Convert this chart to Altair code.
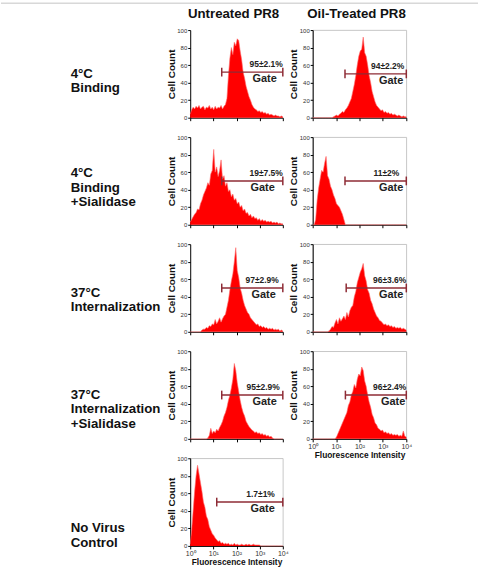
import altair as alt
import pandas as pd

FONT = "Liberation Sans"
RED = "#ff0000"
GATE_COLOR = "#8e2b35"

# ---------------- data ----------------
N_BINS = 64
bin_exponents = [4 * i / (N_BINS - 1) for i in range(N_BINS)]  # channel grid (log10 units)

column_titles = ["Untreated PR8", "Oil-Treated PR8"]
row_labels = [
    "4°C\nBinding",
    "4°C\nBinding\n+Sialidase",
    "37°C\nInternalization",
    "37°C\nInternalization\n+Sialidase",
    "No Virus\nControl",
]
x_tick_values = [1, 10, 100, 1000, 10000]
x_tick_labels = ["10⁰", "10¹", "10²", "10³", "10⁴"]
y_tick_values = [0, 20, 40, 60, 80, 100]

untreated_binding = [4, 9, 12, 10, 13, 11, 14, 10, 12, 13, 9, 12, 11, 14, 10, 12, 9, 13, 10, 12,
                     11, 14, 10, 13, 15, 22, 48, 68, 80, 72, 86, 82, 90, 88, 76, 66, 52, 45, 36, 30,
                     24, 20, 15, 12, 10, 9, 7, 8, 6, 7, 5, 6, 4, 5, 3, 4, 3, 2, 3, 2, 2, 1, 2, 1]
oil_binding = [0] * 14 + [1, 2, 3, 2, 4, 5, 7, 6, 9, 11, 14, 18, 22, 30, 38, 48, 60, 70, 76, 78,
                          92, 74, 70, 60, 48, 40, 30, 24, 18, 14, 12, 10, 8, 9, 6, 7, 5, 6, 4, 5,
                          3, 4, 3, 2, 3, 2, 1, 2, 1, 1]
untreated_binding_sial = [3, 6, 9, 12, 14, 18, 17, 24, 28, 34, 38, 42, 48, 45, 58, 62, 86, 60, 66, 55,
                          62, 74, 52, 56, 44, 48, 38, 40, 32, 35, 28, 30, 24, 26, 20, 22, 16, 18, 13, 14,
                          10, 12, 8, 10, 7, 8, 5, 7, 4, 6, 4, 5, 3, 4, 3, 4, 2, 3, 2, 3, 1, 2, 1, 1]
oil_binding_sial = [0, 0, 6, 28, 42, 52, 62, 60, 70, 78, 56, 52, 44, 40, 34, 30, 24, 22, 20, 16,
                    12, 6] + [0] * 42
untreated_intern = [0] * 8 + [2, 3, 3, 5, 4, 7, 6, 9, 8, 14, 9, 12, 16, 11, 15, 18, 20, 28, 36, 48,
                              58, 66, 80, 96, 70, 62, 50, 44, 36, 30, 26, 22, 20, 16, 14, 12, 10, 8, 9, 6,
                              7, 5, 6, 4, 5, 3, 4, 3, 4, 2, 3, 2, 3, 1, 2, 1]
oil_intern = [0] * 11 + [1, 3, 6, 5, 10, 14, 9, 16, 12, 15, 18, 14, 22, 17, 24, 28, 30, 40, 46,
                         56, 62, 68, 72, 78, 64, 58, 48, 44, 36, 32, 26, 22, 18, 16, 13, 12, 10, 8, 9,
                         7, 8, 6, 7, 5, 6, 4, 5, 4, 5, 3, 4, 3, 2]
untreated_intern_sial = [0] * 12 + [1, 4, 12, 6, 9, 7, 11, 9, 13, 16, 20, 26, 30, 36, 44, 50, 58, 68,
                                    86, 78, 64, 54, 44, 36, 30, 26, 20, 17, 14, 12, 10, 9, 7, 8, 6, 7, 5, 6,
                                    4, 5, 3, 4, 2, 3, 1] + [0] * 7
oil_intern_sial = [0] * 16 + [2, 6, 10, 14, 18, 22, 26, 30, 38, 42, 50, 54, 62, 58,
                              68, 74, 72, 82, 78, 66, 60, 50, 42, 36, 28, 24, 18, 16, 12, 11, 9, 10, 7, 8,
                              6, 7, 5, 6, 4, 5, 4, 5, 3, 4, 3, 9, 3, 2]
no_virus = [2, 18, 40, 62, 80, 92, 82, 72, 62, 50, 44, 34, 30, 22, 18, 14, 12, 9, 7, 5,
            6, 3, 4, 2, 3, 2, 3, 1, 2, 1, 3, 1, 2, 1, 1, 2, 1, 1, 2, 1,
            2, 1, 1, 2, 1, 1, 1, 1] + [0] * 16

gate_percents = ["95±2.1%", "94±2.2%", "19±7.5%", "11±2%", "97±2.9%", "96±3.6%",
                 "95±2.9%", "96±2.4%", "1.7±1%"]
gate_starts = [23, 24, 23, 24, 23, 27, 23, 25, 14]
gate_level = [52, 50, 50, 50, 50, 50, 50, 50, 50]

# ---------------- layout / styling ----------------
label_expr = " : ".join(
    f"datum.value == {v} ? '{lab}'" for v, lab in zip(x_tick_values, x_tick_labels)
) + " : ''"

PANEL_H = 88


def one_row(**kw):
    return pd.DataFrame({k: [v] for k, v in kw.items()})


def panel(counts, pct, gstart, glevel, width, framed, xlabels, pct_dx, gate_dx,
          header=None, rowlabel=None, rowlabel_y=44, topline=False):
    H = PANEL_H
    df = pd.DataFrame({"fi": [10 ** e for e in bin_exponents], "count": counts})
    xscale = alt.Scale(type="log", domain=[1, 10000])
    yscale = alt.Scale(domain=[0, 100], nice=False, zero=True)
    if xlabels:
        xaxis = alt.Axis(values=x_tick_values, grid=False, tickSize=3, labelExpr=label_expr,
                         labelFontSize=7, labelPadding=1, labelFlush=False, labelOverlap=False,
                         title="Fluorescence Intensity", titleFontSize=8.4,
                         titleFontWeight="bold", titlePadding=1)
        xtitle = "Fluorescence Intensity"
    else:
        xaxis = alt.Axis(values=x_tick_values, grid=False, tickSize=3, labels=False, title=None)
        xtitle = None
    yaxis = alt.Axis(values=y_tick_values, grid=False, tickSize=2.5, labelFontSize=6,
                     labelPadding=1, labelOverlap=False, labelFlush=False, labelSeparation=0,
                     labelBound=False, title="Cell Count",
                     titleFontSize=10, titleFontWeight="bold", titleX=-19, titleY=H / 2,
                     titleAngle=270, titleAlign="center", titleBaseline="middle")

    def X(field):
        return alt.X(field, scale=xscale, axis=xaxis, title=xtitle)

    def Y(field):
        return alt.Y(field, scale=yscale, axis=yaxis, title="Cell Count")

    area = alt.Chart(df).mark_area(
        color=RED, opacity=1, interpolate="linear",
        line={"color": "#ff6a6a", "strokeWidth": 0.6}
    ).encode(x=X("fi:Q"), y=Y("count:Q"))

    gdf = one_row(fi=gstart, fi2=10000, count=glevel, lo=glevel - 5, hi=glevel + 5,
                  t=pct, g="Gate")
    gate = alt.Chart(gdf).mark_rule(color=GATE_COLOR, strokeWidth=1.5).encode(
        x=X("fi:Q"), x2="fi2:Q", y=Y("count:Q"))
    cap1 = alt.Chart(gdf).mark_rule(color=GATE_COLOR, strokeWidth=1.5).encode(
        x=X("fi:Q"), y=Y("lo:Q"), y2="hi:Q")
    cap2 = alt.Chart(gdf).mark_rule(color=GATE_COLOR, strokeWidth=1.5).encode(
        x=X("fi2:Q"), y=Y("lo:Q"), y2="hi:Q")
    ptxt = alt.Chart(gdf).mark_text(
        align="right", baseline="middle", dx=pct_dx, dy=-8, font=FONT, fontSize=8.5,
        fontWeight="bold", color="#222"
    ).encode(x=X("fi2:Q"), y=Y("count:Q"), text="t:N")
    gtxt = alt.Chart(gdf).mark_text(
        align="right", baseline="middle", dx=gate_dx, dy=7, font=FONT, fontSize=11,
        fontWeight="bold", color="#222"
    ).encode(x=X("fi2:Q"), y=Y("count:Q"), text="g:N")
    layers = [area, gate, cap1, cap2, ptxt, gtxt]

    if header:
        layers.append(alt.Chart(one_row(t=header)).mark_text(
            font=FONT, fontSize=13.3, fontWeight="bold", color="#111", align="center",
            baseline="middle").encode(x=alt.value(width / 2 - 3), y=alt.value(-16), text="t:N"))
    if rowlabel:
        layers.append(alt.Chart(one_row(t=rowlabel)).mark_text(
            font=FONT, fontSize=13.3, fontWeight="bold", color="#111", align="left",
            baseline="middle", lineBreak="\n", lineHeight=14.5
        ).encode(x=alt.value(-120), y=alt.value(rowlabel_y), text="t:N"))
    if topline:
        layers.append(alt.Chart(one_row(t="")).mark_rule(color="#c4c4c4", strokeWidth=1).encode(
            x=alt.value(-190), x2=alt.value(289), y=alt.value(-27)))

    view = (alt.ViewBackground(stroke="#b8b8b8", strokeWidth=0.8, strokeOpacity=1)
            if framed else alt.ViewBackground(strokeOpacity=0))
    return alt.layer(*layers).properties(width=width, height=H, view=view)


blank = alt.Chart(one_row(t="")).mark_text().encode(text="t:N").properties(
    width=94, height=PANEL_H, view=alt.ViewBackground(strokeOpacity=0))

cells = [
    panel(untreated_binding, gate_percents[0], gate_starts[0], gate_level[0], 93, False, False, 0, -6,
          header=column_titles[0], rowlabel=row_labels[0], rowlabel_y=44, topline=True),
    panel(oil_binding, gate_percents[1], gate_starts[1], gate_level[1], 94, True, False, -2, -3,
          header=column_titles[1]),
    panel(untreated_binding_sial, gate_percents[2], gate_starts[2], gate_level[2], 93, False, False, 0, -8,
          rowlabel=row_labels[1], rowlabel_y=36.5),
    panel(oil_binding_sial, gate_percents[3], gate_starts[3], gate_level[3], 94, True, False, -7, -3),
    panel(untreated_intern, gate_percents[4], gate_starts[4], gate_level[4], 93, False, False, -4, -7,
          rowlabel=row_labels[2], rowlabel_y=49),
    panel(oil_intern, gate_percents[5], gate_starts[5], gate_level[5], 94, True, False, 0, -3),
    panel(untreated_intern_sial, gate_percents[6], gate_starts[6], gate_level[6], 93, False, False, -3, -6,
          rowlabel=row_labels[3], rowlabel_y=44),
    panel(oil_intern_sial, gate_percents[7], gate_starts[7], gate_level[7], 94, True, True, 0, -1),
    panel(no_virus, gate_percents[8], gate_starts[8], gate_level[8], 93, True, True, -8, -8,
          rowlabel=row_labels[4], rowlabel_y=70.5),
    blank,
]

chart = alt.concat(
    *cells, columns=2, spacing={"row": 19.5, "column": 30}, bounds="flush"
).properties(
    padding={"left": 0, "top": 1, "right": 0, "bottom": 0}
).configure_axis(
    domainColor="#000", tickColor="#000", labelColor="#333", titleColor="#111",
    labelFont=FONT, titleFont=FONT, domainWidth=1, tickWidth=1, labelOverlap=False
).configure_axisY(
    labelOverlap=False
).configure_view(strokeOpacity=0)

chart.save("out.html", embed_options={"renderer": "svg", "actions": False})
